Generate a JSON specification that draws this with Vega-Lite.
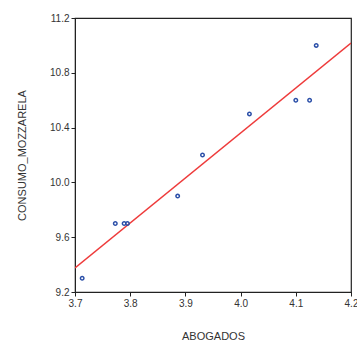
{
  "$schema": "https://vega.github.io/schema/vega-lite/v6.json",
  "width": 276,
  "height": 274,
  "autosize": {"type": "none"},
  "padding": {"left": 75, "top": 18, "right": 6, "bottom": 53},
  "background": "white",
  "config": {
    "font": "Liberation Sans",
    "view": {"stroke": "#222", "strokeWidth": 1.2},
    "axis": {
      "grid": false,
      "domainColor": "#222",
      "tickColor": "#222",
      "tickSize": 4,
      "labelFontSize": 10,
      "labelColor": "#333",
      "titleFontSize": 11,
      "titleFontWeight": "normal",
      "titleColor": "#333",
      "labelPadding": 2,
      "labelFlush": false,
      "labelOverlap": false
    }
  },
  "datasets": {
    "pts": [
      {"abogados": 3.713, "mozzarela": 9.3},
      {"abogados": 3.773, "mozzarela": 9.7},
      {"abogados": 3.789, "mozzarela": 9.7},
      {"abogados": 3.795, "mozzarela": 9.7},
      {"abogados": 3.886, "mozzarela": 9.9},
      {"abogados": 3.931, "mozzarela": 10.2},
      {"abogados": 4.016, "mozzarela": 10.5},
      {"abogados": 4.100, "mozzarela": 10.6},
      {"abogados": 4.125, "mozzarela": 10.6},
      {"abogados": 4.137, "mozzarela": 11.0}
    ],
    "fit": [
      {"abogados": 3.7, "mozzarela": 9.375},
      {"abogados": 4.2, "mozzarela": 11.017}
    ]
  },
  "layer": [
    {
      "data": {"name": "fit"},
      "mark": {"type": "line", "color": "#ee3b3b", "strokeWidth": 1.5, "clip": true},
      "encoding": {
        "x": {"field": "abogados", "type": "quantitative"},
        "y": {"field": "mozzarela", "type": "quantitative"}
      }
    },
    {
      "data": {"name": "pts"},
      "mark": {"type": "point", "shape": "circle", "filled": false, "color": "#2b4fa8", "strokeWidth": 1.5, "size": 12, "opacity": 1},
      "encoding": {
        "x": {
          "field": "abogados", "type": "quantitative",
          "scale": {"domain": [3.7, 4.2], "nice": false, "zero": false},
          "axis": {"values": [3.7, 3.8, 3.9, 4.0, 4.1, 4.2], "format": ".1f", "title": "ABOGADOS", "titlePadding": 22}
        },
        "y": {
          "field": "mozzarela", "type": "quantitative",
          "scale": {"domain": [9.2, 11.2], "nice": false, "zero": false},
          "axis": {"values": [9.2, 9.6, 10.0, 10.4, 10.8, 11.2], "format": ".1f", "title": "CONSUMO_MOZZARELA", "titlePadding": 22}
        }
      }
    }
  ]
}
